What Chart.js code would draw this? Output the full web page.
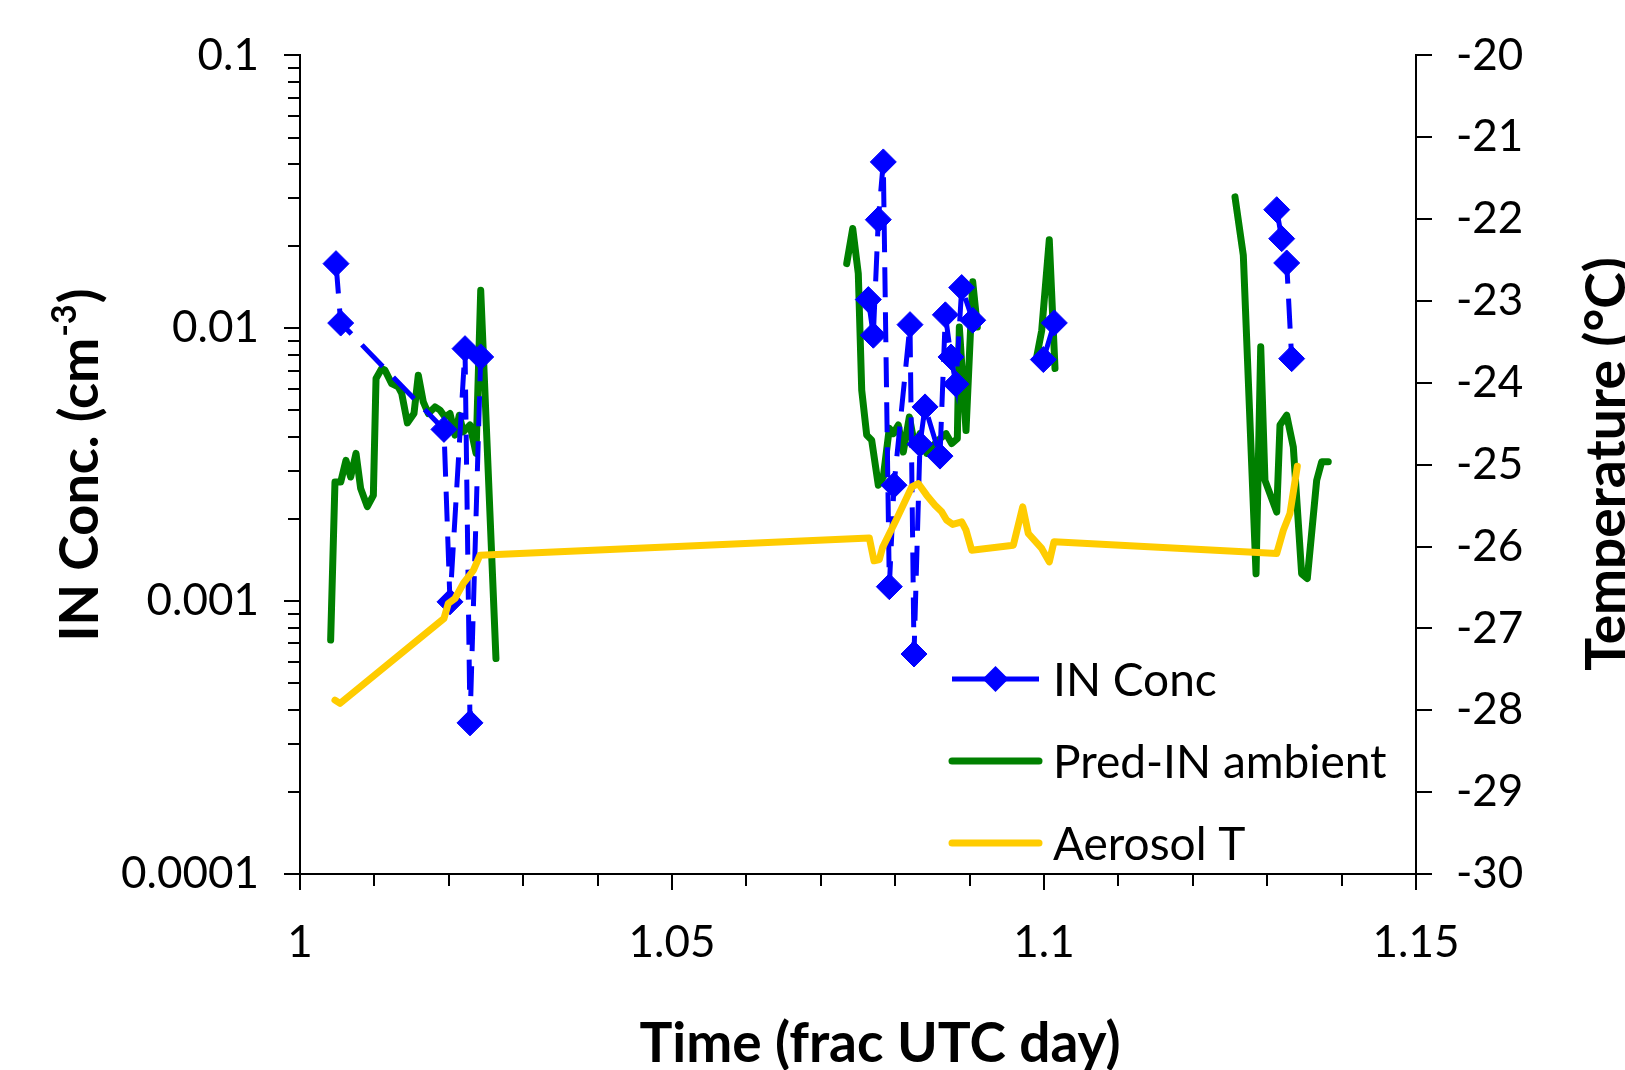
<!DOCTYPE html>
<html>
<head>
<meta charset="utf-8">
<script src="https://cdn.jsdelivr.net/npm/chart.js@4.4.1/dist/chart.umd.min.js"></script>
<style>
html,body{margin:0;padding:0;background:#ffffff;}
#wrap{width:1625px;height:1070px;position:relative;overflow:hidden;}
canvas{display:block;}
</style>
</head>
<body>
<div id="wrap"><canvas id="c" width="1625" height="1070"></canvas></div>
<script>
// ---------------- DATA ----------------
// IN Conc (blue diamonds, dashed); null = break in line
const inTime = [1.00484, 1.00547, 1.01935, 1.02016, 1.02218, 1.02285, 1.02429, 1.05,
  1.07639, 1.07706, 1.07773, 1.0784, 1.07921, 1.07984, 1.08199, 1.08253, 1.08333, 1.08401,
  1.08602, 1.08674, 1.0875, 1.08817, 1.08894, 1.09042, 1.095,
  1.09991, 1.10139, 1.115,
  1.13128, 1.13195, 1.13262, 1.13329];
const inConc = [0.01725, 0.01045, 0.00426, 0.000994, 0.00842, 0.000358, 0.00785, null,
  0.01274, 0.00943, 0.025, 0.0407, 0.00113, 0.00266, 0.01031, 0.00064, 0.00376, 0.00515,
  0.0034, 0.0112, 0.00785, 0.00624, 0.0141, 0.0107, null,
  0.00768, 0.01046, null,
  0.0272, 0.0213, 0.01735, 0.00774];

// Pred-IN ambient (green line)
const predTime = [1.00412, 1.0047, 1.00547, 1.00618, 1.00681, 1.00753, 1.00815, 1.00905, 1.00986,
  1.01022, 1.01098, 1.01142, 1.01232, 1.01321, 1.01367, 1.01443, 1.01532, 1.0159, 1.01657,
  1.01725, 1.01815, 1.01882, 1.01949, 1.02016, 1.02083, 1.02141, 1.02195, 1.02285, 1.02366,
  1.02429, 1.02634, 1.05,
  1.07348, 1.07429, 1.07504, 1.0755, 1.07617, 1.07684, 1.07773, 1.0784, 1.07921, 1.07974,
  1.08042, 1.08109, 1.0819, 1.08266, 1.08333, 1.08423, 1.08557, 1.08683, 1.08759, 1.08835,
  1.08862, 1.08952, 1.09042, 1.09104, 1.095,
  1.0990, 1.09969, 1.10071, 1.10148, 1.115,
  1.12567, 1.12679, 1.1285, 1.12913, 1.1297, 1.13128, 1.13172, 1.13262, 1.13351, 1.13463,
  1.13539, 1.13665, 1.13732, 1.13821];
const predIN = [0.00072, 0.00273, 0.00273, 0.00328, 0.00285, 0.00348, 0.00259, 0.00222, 0.00244,
  0.00655, 0.00712, 0.00702, 0.00627, 0.0061, 0.00577, 0.0045, 0.00487, 0.00673, 0.00537,
  0.00487, 0.00515, 0.00501, 0.00473, 0.00487, 0.00406, 0.0048, 0.00417, 0.00442, 0.00348,
  0.01377, 0.000616, null,
  0.01725, 0.0232, 0.01585, 0.00593, 0.00406, 0.00389, 0.00266, 0.00285, 0.0043, 0.00411,
  0.00442, 0.00352, 0.00473, 0.00367, 0.00411, 0.00348, 0.00384, 0.00411, 0.00378, 0.00394,
  0.0101, 0.00422, 0.0148, 0.0101, null,
  0.0078, 0.0098, 0.0211, 0.00712, null,
  0.0303, 0.0185, 0.00126, 0.00855, 0.00277, 0.00212, 0.00442, 0.0048, 0.00367, 0.00126,
  0.00121, 0.00277, 0.00324, 0.00324];

// Aerosol T (yellow line, right axis)
const tempTime = [1.0047, 1.00538, 1.01935, 1.01993, 1.02083, 1.02195, 1.0233, 1.02419,
  1.07652, 1.07715, 1.07786, 1.07831, 1.08011, 1.08222, 1.0831, 1.08423, 1.08535, 1.08625,
  1.08692, 1.08773, 1.08894, 1.08952, 1.09028, 1.09588, 1.09714, 1.09789, 1.09969, 1.10071,
  1.10134, 1.13128, 1.13217, 1.13306, 1.13405];
const aerosolT = [-27.876, -27.916, -26.878, -26.695, -26.634, -26.451, -26.29, -26.105,
  -25.894, -26.174, -26.158, -26.01, -25.678, -25.271, -25.23, -25.372, -25.495, -25.576,
  -25.678, -25.73, -25.698, -25.8, -26.044, -25.983, -25.515, -25.84, -26.023, -26.187,
  -25.942, -26.084, -25.8, -25.596, -25.018];

// Ticks
const xTickValues = [1, 1.01, 1.02, 1.03, 1.04, 1.05, 1.06, 1.07, 1.08, 1.09, 1.1, 1.11, 1.12, 1.13, 1.14, 1.15];
const xMajorTicks = [1, 1.05, 1.1, 1.15];
const xMajorLabels = ['1', '1.05', '1.1', '1.15'];
const yMajorTicks = [0.0001, 0.001, 0.01, 0.1];
const yMajorLabels = ['0.0001', '0.001', '0.01', '0.1'];
const yMinorMultipliers = [2, 3, 4, 5, 6, 7, 8, 9];
const y2TickValues = [-30, -29, -28, -27, -26, -25, -24, -23, -22, -21, -20];

const seriesNames = ['IN Conc', 'Pred-IN ambient', 'Aerosol T'];
const xTitle = 'Time (frac UTC day)';
const yTitleMain = 'IN Conc. (cm';
const yTitleSup = '-3';
const yTitleEnd = ')';
const y2Title = 'Temperature (°C)';

// ---------------- CHART ----------------
const FONT = 'Lato, "Open Sans", sans-serif';
const BLUE = '#0000FF', GREEN = '#008000', YELLOW = '#FFCC00';

const toXY = (xs, ys) => xs.map((x, i) => ({x: x, y: ys[i]}));

const yTickValues = [];
for (let d = 0; d < yMajorTicks.length; d++) {
  yTickValues.push(yMajorTicks[d]);
  if (d < yMajorTicks.length - 1) {
    yMinorMultipliers.forEach(m => yTickValues.push(+(m * yMajorTicks[d]).toPrecision(6)));
  }
}

const near = (a, b) => Math.abs(a - b) < 1e-9 * Math.max(1, Math.abs(b));

const decorPlugin = {
  id: 'decor',
  afterDraw(chart) {
    const ctx = chart.ctx;
    const a = chart.chartArea;
    const xs = chart.scales.x, ys = chart.scales.y;
    ctx.save();
    ctx.strokeStyle = '#000';
    ctx.lineWidth = 2;
    // major tick extensions
    xMajorTicks.forEach(v => {
      const px = Math.round(xs.getPixelForValue(v));
      ctx.beginPath(); ctx.moveTo(px, a.bottom + 10); ctx.lineTo(px, a.bottom + 16); ctx.stroke();
    });
    yMajorTicks.forEach(v => {
      const py = Math.round(ys.getPixelForValue(v));
      ctx.beginPath(); ctx.moveTo(a.left - 10, py); ctx.lineTo(a.left - 16, py); ctx.stroke();
    });

    ctx.fillStyle = '#000';
    // x title
    ctx.font = 'bold 55px ' + FONT;
    ctx.textAlign = 'center';
    ctx.textBaseline = 'alphabetic';
    ctx.fillText(xTitle, 880, 1062);

    // left title with superscript
    ctx.save();
    ctx.translate(98, 466);
    ctx.rotate(-Math.PI / 2);
    ctx.textAlign = 'left';
    ctx.font = 'bold 54px ' + FONT;
    const w1 = ctx.measureText(yTitleMain).width;
    const w3 = ctx.measureText(yTitleEnd).width;
    ctx.font = 'bold 34px ' + FONT;
    const w2 = ctx.measureText(yTitleSup).width;
    let x0 = -(w1 + w2 + w3) / 2;
    ctx.font = 'bold 54px ' + FONT;
    ctx.fillText(yTitleMain, x0, 0);
    ctx.font = 'bold 34px ' + FONT;
    ctx.fillText(yTitleSup, x0 + w1 + 1, -22);
    ctx.font = 'bold 54px ' + FONT;
    ctx.fillText(yTitleEnd, x0 + w1 + w2 + 2, 0);
    ctx.restore();

    // right title
    ctx.save();
    ctx.translate(1625, 464);
    ctx.rotate(-Math.PI / 2);
    ctx.textAlign = 'center';
    ctx.font = 'bold 55px ' + FONT;
    ctx.fillText(y2Title, 0, 0);
    ctx.restore();

    // legend
    const rowsY = [679, 761, 843];
    const lx0 = 952, lx1 = 1039, tx = 1053;
    chart.data.datasets.forEach((ds, i) => {
      const y = rowsY[i];
      ctx.strokeStyle = ds.borderColor;
      ctx.lineWidth = ds.borderWidth;
      ctx.lineCap = ds.pointRadius > 0 ? 'butt' : 'round';
      ctx.setLineDash([]);
      ctx.beginPath(); ctx.moveTo(lx0, y); ctx.lineTo(lx1, y); ctx.stroke();
      if (ds.pointRadius > 0) {
        const r = ds.pointRadius;
        const cx = (lx0 + lx1) / 2;
        ctx.fillStyle = ds.pointBackgroundColor;
        ctx.beginPath();
        ctx.moveTo(cx, y - r); ctx.lineTo(cx + r, y); ctx.lineTo(cx, y + r); ctx.lineTo(cx - r, y);
        ctx.closePath(); ctx.fill();
      }
      ctx.fillStyle = '#000';
      ctx.font = '46px ' + FONT;
      ctx.textAlign = 'left';
      ctx.textBaseline = 'alphabetic';
      ctx.fillText(ds.label, tx, y + 17);
    });
    ctx.restore();
  }
};

const tickFont = {family: FONT, size: 44};

new Chart(document.getElementById('c').getContext('2d'), {
  type: 'line',
  data: {
    datasets: [
      {
        label: seriesNames[0], data: toXY(inTime, inConc), yAxisID: 'y',
        borderColor: BLUE, backgroundColor: BLUE, borderWidth: 5, borderDash: [30, 15],
        pointStyle: 'rectRot', pointRadius: 13, pointBackgroundColor: BLUE, pointBorderColor: BLUE,
        pointBorderWidth: 1, spanGaps: false, tension: 0, order: 2, fill: false
      },
      {
        label: seriesNames[1], data: toXY(predTime, predIN), yAxisID: 'y',
        borderColor: GREEN, backgroundColor: GREEN, borderWidth: 7, pointRadius: 0,
        borderJoinStyle: 'round', borderCapStyle: 'round', spanGaps: false, tension: 0, order: 3, fill: false
      },
      {
        label: seriesNames[2], data: toXY(tempTime, aerosolT), yAxisID: 'y2',
        borderColor: YELLOW, backgroundColor: YELLOW, borderWidth: 7, pointRadius: 0,
        borderJoinStyle: 'round', borderCapStyle: 'round', spanGaps: false, tension: 0, order: 1, fill: false
      }
    ]
  },
  options: {
    responsive: false,
    animation: false,
    events: [],
    layout: {padding: {top: 55, left: 0, right: 0, bottom: 0}},
    plugins: {legend: {display: false}, tooltip: {enabled: false}, title: {display: false}},
    scales: {
      x: {
        type: 'linear', position: 'bottom', min: 1, max: 1.15,
        afterBuildTicks: s => { s.ticks = xTickValues.map(v => ({value: v})); },
        afterFit: s => { s.height = 196; },
        grid: {drawOnChartArea: false, drawTicks: true, tickLength: 12, tickWidth: 2, tickColor: '#000', lineWidth: 2, color: '#000'},
        border: {display: true, color: '#000', width: 2},
        ticks: {
          font: tickFont, color: '#000', padding: 30, autoSkip: false, maxRotation: 0, minRotation: 0,
          callback: (v) => { const k = xMajorTicks.findIndex(m => near(m, v)); return k >= 0 ? xMajorLabels[k] : ''; }
        }
      },
      y: {
        type: 'logarithmic', position: 'left', min: 0.0001, max: 0.1,
        afterBuildTicks: s => { s.ticks = yTickValues.map(v => ({value: v})); },
        afterFit: s => { s.width = 300; },
        grid: {drawOnChartArea: false, drawTicks: true, tickLength: 12, tickWidth: 2, tickColor: '#000', lineWidth: 2, color: '#000'},
        border: {display: true, color: '#000', width: 2},
        ticks: {
          font: tickFont, color: '#000', padding: 29, autoSkip: false,
          callback: (v) => { const k = yMajorTicks.findIndex(m => near(m, v)); return k >= 0 ? yMajorLabels[k] : ''; }
        }
      },
      y2: {
        type: 'linear', position: 'right', min: -30, max: -20,
        afterBuildTicks: s => { s.ticks = y2TickValues.map(v => ({value: v})); },
        afterFit: s => { s.width = 209; },
        grid: {drawOnChartArea: false, drawTicks: true, tickLength: 16, tickWidth: 2, tickColor: '#000', lineWidth: 2, color: '#000'},
        border: {display: true, color: '#000', width: 2},
        ticks: {font: tickFont, color: '#000', padding: 24, autoSkip: false, callback: (v) => String(v)}
      }
    }
  },
  plugins: [decorPlugin]
});
</script>
</body>
</html>
